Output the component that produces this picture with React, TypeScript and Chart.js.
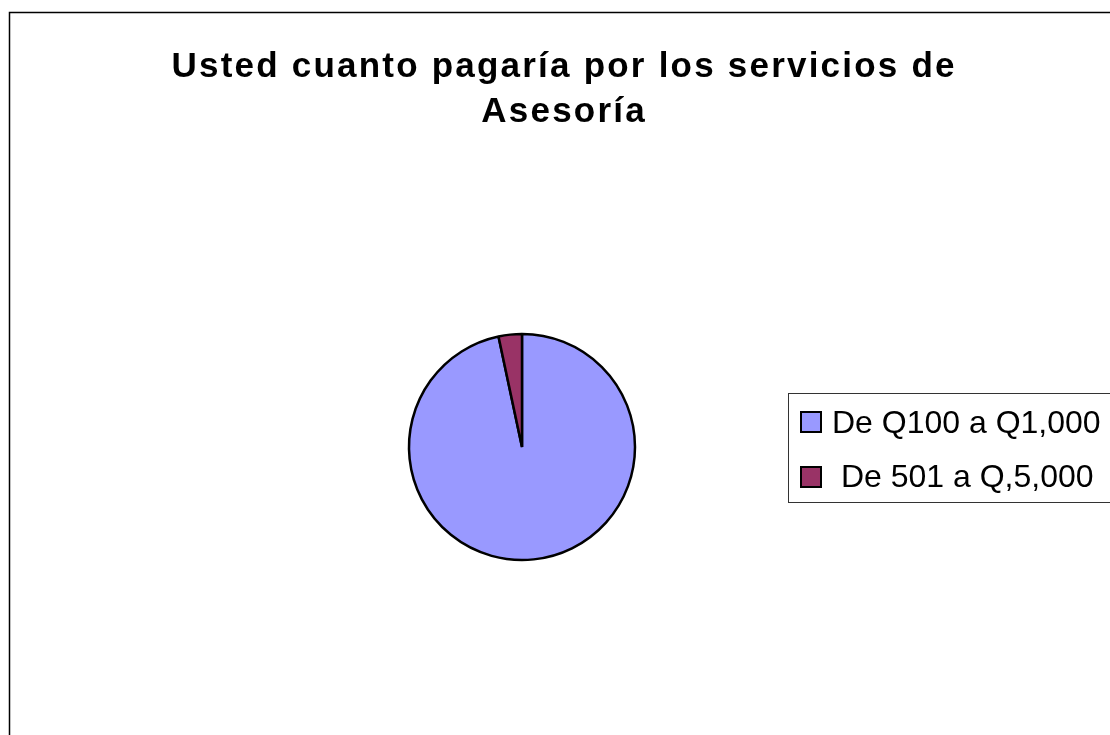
import React, { useEffect, useRef } from "react";
import { Chart, registerables } from "chart.js";

Chart.register(...registerables);

const titleLines = ["Usted cuanto pagaría por los servicios de", "Asesoría"];
const categories = ["De Q100 a Q1,000", " De 501 a Q,5,000"];
const values = [29, 1];
const colors = ["#9999FF", "#993366"];

const W = 1110;
const H = 735;

const decorPlugin = {
  id: "decor",
  beforeDraw(chart: any) {
    const ctx = chart.ctx;
    ctx.save();
    ctx.fillStyle = "#ffffff";
    ctx.fillRect(0, 0, W, H);
    // outer border
    ctx.strokeStyle = "#000000";
    ctx.lineWidth = 1.5;
    ctx.strokeRect(9.5, 12.5, W + 20, H + 20);
    // title
    ctx.fillStyle = "#000000";
    ctx.font = "bold 35px 'Liberation Sans', Arial, sans-serif";
    ctx.textBaseline = "alphabetic";
    ctx.textAlign = "left";
    const w0 = ctx.measureText(titleLines[0]).width;
    const spacing = Math.max(0, (783 - w0) / (titleLines[0].length - 1));
    (ctx as any).letterSpacing = spacing + "px";
    const baselines = [77, 122];
    titleLines.forEach((line, i) => {
      const w = ctx.measureText(line).width - spacing;
      ctx.fillText(line, 563 - w / 2, baselines[i]);
    });
    (ctx as any).letterSpacing = "0px";
    ctx.restore();
  },
  afterDraw(chart: any) {
    const ctx = chart.ctx;
    ctx.save();
    // legend box
    ctx.strokeStyle = "#333333";
    ctx.lineWidth = 1;
    ctx.strokeRect(788.5, 393.5, 400, 109);
    ctx.font = "32px 'Liberation Sans', Arial, sans-serif";
    ctx.textBaseline = "alphabetic";
    ctx.textAlign = "left";
    const rowY = [411, 466];
    const baseY = [433, 487];
    categories.forEach((label, i) => {
      ctx.fillStyle = colors[i];
      ctx.fillRect(801, rowY[i] + 1, 20, 20);
      ctx.strokeStyle = "#000000";
      ctx.lineWidth = 2;
      ctx.strokeRect(801, rowY[i] + 1, 20, 20);
      ctx.fillStyle = "#000000";
      ctx.fillText(label, 832, baseY[i]);
    });
    ctx.restore();
  },
};

export default function App() {
  const ref = useRef<HTMLCanvasElement | null>(null);
  useEffect(() => {
    if (!ref.current) return;
    const chart = new Chart(ref.current, {
      type: "pie",
      data: {
        labels: categories,
        datasets: [
          {
            data: values,
            backgroundColor: colors,
            borderColor: "#000000",
            borderWidth: 2.5,
          },
        ],
      },
      options: {
        responsive: false,
        animation: false,
        radius: 113,
        layout: {
          padding: { left: 409, right: W - 635, top: 334, bottom: H - 560 },
        },
        plugins: {
          legend: { display: false },
          title: { display: false },
          tooltip: { enabled: false },
        },
      } as any,
      plugins: [decorPlugin],
    });
    return () => chart.destroy();
  }, []);
  return (
    <div style={{ position: "absolute", left: 0, top: 0, width: W, height: H }}>
      <canvas ref={ref} width={W} height={H} style={{ display: "block" }} />
    </div>
  );
}
